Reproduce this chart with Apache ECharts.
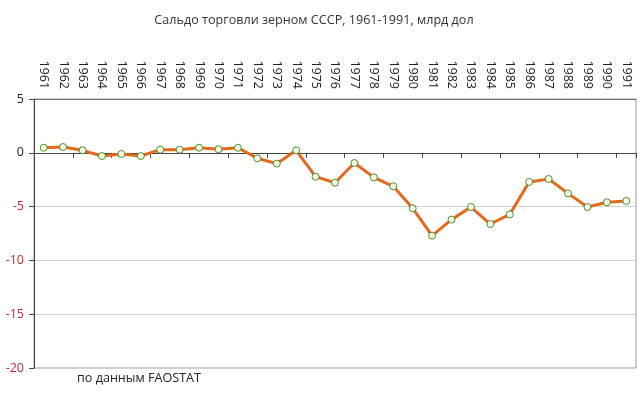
<!DOCTYPE html>
<html>
<head>
<meta charset="utf-8">
<script src="https://cdn.jsdelivr.net/npm/echarts@6/dist/echarts.min.js"></script>
<style>
  html, body { margin: 0; padding: 0; background: #fff; }
  #chart { width: 640px; height: 396px; }
</style>
</head>
<body>
<div id="chart"></div>
<script>
const years = [
  '1961', '1962', '1963', '1964', '1965', '1966', '1967', '1968', '1969', '1970',
  '1971', '1972', '1973', '1974', '1975', '1976', '1977', '1978', '1979', '1980',
  '1981', '1982', '1983', '1984', '1985', '1986', '1987', '1988', '1989', '1990', '1991'
]

// сальдо, млрд долл.
const balance = [
  0.47, 0.54, 0.23, -0.3, -0.11, -0.3, 0.29, 0.29, 0.47, 0.33,
  0.47, -0.51, -1.01, 0.23, -2.22, -2.78, -0.95, -2.28, -3.11, -5.16,
  -7.7, -6.21, -5.04, -6.62, -5.72, -2.71, -2.43, -3.77, -5.04, -4.6, -4.48
]

const fontFamily = '"Open Sans", "DejaVu Sans", sans-serif'

const chart = echarts.init(document.getElementById('chart'))

chart.setOption({
  animation: false,
  title: {
    text: 'Сальдо торговли зерном СССР, 1961-1991, млрд дол',
    left: 309,
    top: 9,
    textAlign: 'center',
    textStyle: {
      color: '#333',
      fontSize: 12.6,
      fontWeight: 'normal',
      fontFamily,
    },
  },
  graphic: [
    {
      type: 'text',
      left: 77,
      top: 372,
      style: {
        text: 'по данным FAOSTAT',
        fill: '#222',
        fontSize: 12.6,
        fontFamily,
      },
    },
  ],
  grid: {
    left: 34,
    right: 4,
    top: 99,
    bottom: 28,
    show: true,
    borderColor: '#999',
    borderWidth: 1,
  },
  xAxis: [
    {
      type: 'category',
      data: years,
      position: 'top',
      axisLine: { show: true, onZero: false, lineStyle: { color: '#777' } },
      axisTick: { show: false },
      axisLabel: {
        rotate: 90,
        margin: 10,
        color: '#222',
        fontSize: 12.5,
        fontFamily,
      },
      splitLine: { show: false },
    },
    {
      type: 'category',
      data: years,
      position: 'bottom',
      axisLine: { show: true, onZero: true, onZeroAxisIndex: 0, lineStyle: { color: '#444' } },
      axisTick: { show: true, length: 5, lineStyle: { color: '#444' } },
      axisLabel: { show: false },
      splitLine: { show: false },
    },
  ],
  yAxis: {
    type: 'value',
    min: -20,
    max: 5,
    interval: 5,
    axisLine: { show: true, lineStyle: { color: '#444' } },
    axisTick: { show: true, length: 5, lineStyle: { color: '#444' } },
    axisLabel: {
      margin: 10,
      fontSize: 12.5,
      fontFamily,
      color: (v) => (Number(v) < 0 ? '#c0282e' : '#222'),
    },
    splitLine: { show: true, lineStyle: { color: '#d0d0d0' } },
  },
  series: [
    {
      type: 'line',
      xAxisIndex: 1,
      data: balance,
      symbol: 'circle',
      symbolSize: 7,
      lineStyle: { color: '#e4691a', width: 3 },
      itemStyle: {
        color: '#f4ffe8',
        borderColor: '#4a8c2a',
        borderWidth: 1,
      },
    },
  ],
})
</script>
</body>
</html>
